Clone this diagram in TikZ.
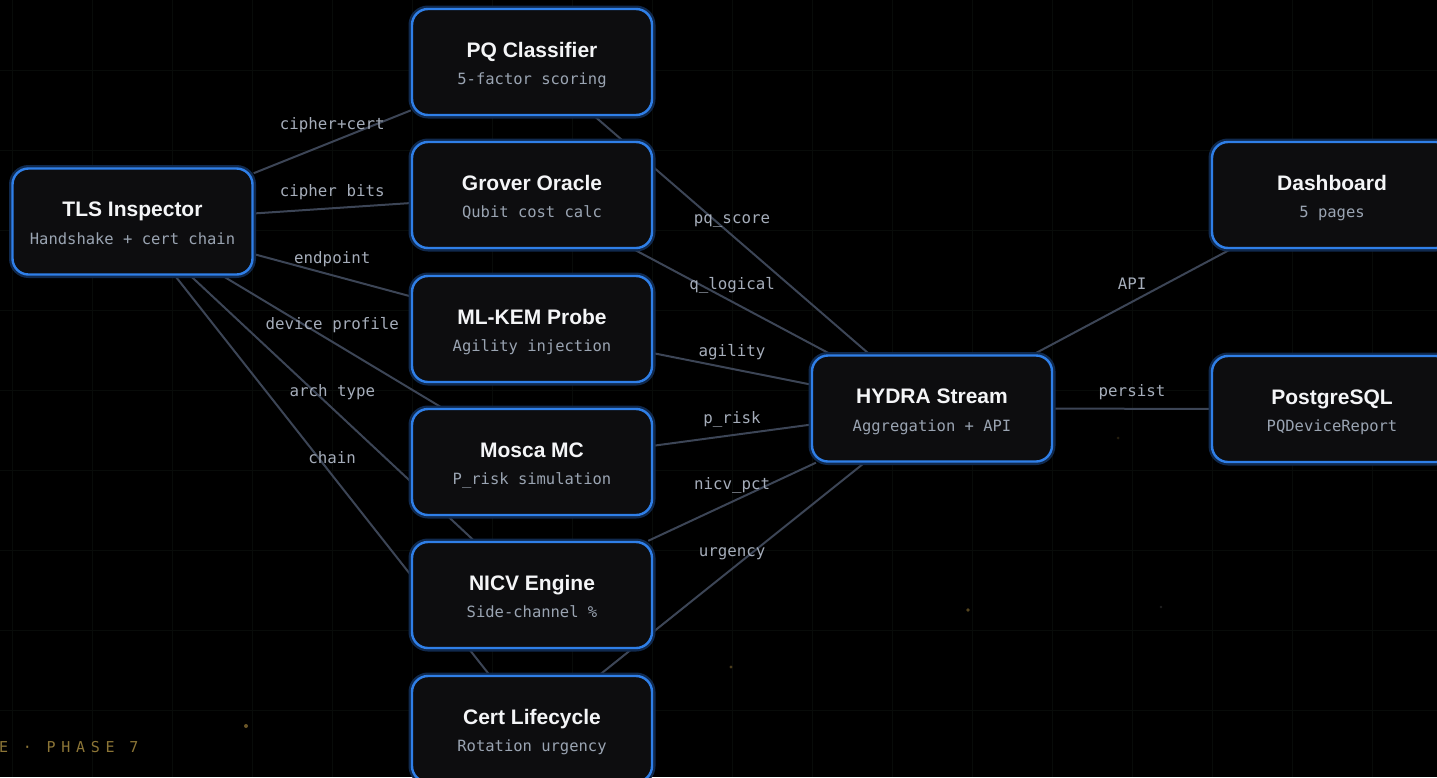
\documentclass[tikz,border=0pt]{standalone}
\usepackage{fontspec}
\setmainfont{Liberation Sans}
\newfontfamily\codefont{DejaVu Sans Mono}
\newfontfamily\phasefont[LetterSpace=38]{DejaVu Sans Mono}

\definecolor{canvas}{HTML}{000000}
\definecolor{gridline}{HTML}{080B09}
\definecolor{boxfill}{HTML}{0D0D0F}
\definecolor{boxedge}{HTML}{2F7FE8}
\definecolor{boxglow}{HTML}{10294D}
\definecolor{wire}{HTML}{3C4556}
\definecolor{wirelabel}{HTML}{A5ADBA}
\definecolor{subtitle}{HTML}{9AA4B2}
\definecolor{titletext}{HTML}{F4F5F7}
\definecolor{phasegold}{HTML}{8C7536}
\definecolor{speck}{HTML}{6A5627}

\pgfdeclarelayer{backdrop}
\pgfdeclarelayer{wires}
\pgfsetlayers{backdrop,wires,main}

\tikzset{
  module/.style={rectangle, rounded corners=16pt, minimum width=240pt,
    minimum height=106pt, inner sep=0pt, fill=boxfill, draw=boxedge,
    line width=2.4pt, preaction={draw=boxglow, line width=7pt}},
  modtitle/.style={anchor=base, inner sep=0pt, text=titletext,
    font=\fontsize{21}{24}\selectfont\bfseries},
  modsub/.style={anchor=base, inner sep=0pt, text=subtitle,
    font=\codefont\fontsize{15.5}{18}\selectfont},
  link/.style={draw=wire, line width=2pt},
  tag/.style={midway, anchor=base, yshift=12pt, inner sep=0pt,
    text=wirelabel, font=\codefont\fontsize{15.8}{18}\selectfont},
}

% a module box with its bold title and monospace caption
\newcommand\stagebox[5]{%
  \node[module] (#1) at (#2,#3) {};
  \node[modtitle] (#1-title) at (#2,#3-4.8) {#4};
  \node[modsub] (#1-sub) at (#2,#3+22.5) {#5};
}

\begin{document}
\begin{tikzpicture}[x=1pt, y=-1pt]
  \useasboundingbox (0,0) rectangle (1437,777);
  \clip (0,0) rectangle (1437,777);

  \begin{pgfonlayer}{backdrop}
    \fill[canvas] (0,0) rectangle (1437,777);
    % faint 80px grid
    \foreach \gx in {12,92,...,1452}
      \draw[gridline, line width=1pt] (\gx,0) -- (\gx,777);
    \foreach \gy in {70,150,...,710}
      \draw[gridline, line width=1pt] (0,\gy) -- (1437,\gy);
    % scattered specks
    \fill[speck] (246,726) circle (2);
    \fill[speck!70!black] (731,667) circle (1.6);
    \fill[speck!80!black] (968,610) circle (1.8);
    \fill[speck!35!black] (1118,438) circle (1.5);
    \fill[gray!25!black] (1161,607) circle (1.4);
  \end{pgfonlayer}

  % source
  \stagebox{tls}{132.5}{221.5}{TLS Inspector}{Handshake + cert chain}
  % analysis column
  \stagebox{pq}{532}{62}{PQ Classifier}{5-factor scoring}
  \stagebox{grover}{532}{195}{Grover Oracle}{Qubit cost calc}
  \stagebox{mlkem}{532}{329}{ML-KEM Probe}{Agility injection}
  \stagebox{mosca}{532}{462}{Mosca MC}{P\_risk simulation}
  \stagebox{nicv}{532}{595}{NICV Engine}{Side-channel \%}
  \stagebox{cert}{532}{729}{Cert Lifecycle}{Rotation urgency}
  % aggregation and sinks
  \stagebox{hydra}{932}{408.5}{HYDRA Stream}{Aggregation + API}
  \stagebox{dash}{1332}{195}{Dashboard}{5 pages}
  \stagebox{pg}{1332}{409}{PostgreSQL}{PQDeviceReport}

  \begin{pgfonlayer}{wires}
    \path[link] (tls) -- (pq) node[tag] {cipher+cert};
    \path[link] (tls) -- (grover) node[tag] {cipher bits};
    \path[link] (tls) -- (mlkem) node[tag] {endpoint};
    \path[link] (tls) -- (mosca) node[tag] {device profile};
    \path[link] (tls) -- (nicv) node[tag] {arch type};
    \path[link] (tls) -- (cert) node[tag] {chain};

    \path[link] (pq) -- (hydra) node[tag] {pq\_score};
    \path[link] (grover) -- (hydra) node[tag] {q\_logical};
    \path[link] (mlkem) -- (hydra) node[tag] {agility};
    \path[link] (mosca) -- (hydra) node[tag] {p\_risk};
    \path[link] (nicv) -- (hydra) node[tag] {nicv\_pct};
    \path[link] (cert) -- (hydra) node[tag] {urgency};

    \path[link] (hydra) -- (dash) node[tag] {API};
    \path[link] (hydra) -- (pg) node[tag] {persist};
  \end{pgfonlayer}

  % phase caption, running off the left edge
  \node[anchor=base west, inner sep=0pt, text=phasegold,
    font=\phasefont\fontsize{15}{18}\selectfont] (phase) at (-1,752)
    {E · PHASE 7};
\end{tikzpicture}
\end{document}
